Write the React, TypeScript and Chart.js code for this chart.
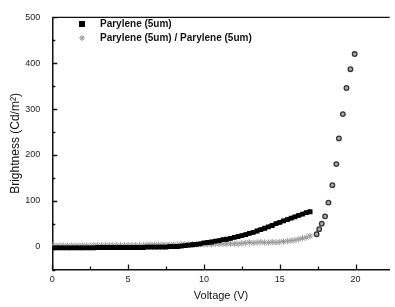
import React, { useEffect, useRef } from 'react';
import { Chart, registerables } from 'chart.js';

Chart.register(...registerables);

const seriesNames = ['Parylene (5um)', 'Parylene (5um) / Parylene (5um)'];

// Voltage sweep (V) for the dense part of both measurements
const denseVoltage = [
  0, 0.25, 0.5, 0.75, 1, 1.25, 1.5, 1.75, 2,
  2.25, 2.5, 2.75, 3, 3.25, 3.5, 3.75, 4, 4.25, 4.5, 4.75, 5,
  5.25, 5.5, 5.75, 6, 6.25, 6.5, 6.75, 7, 7.25, 7.5, 7.75, 8,
  8.25, 8.5, 8.75, 9, 9.25, 9.5, 9.75, 10,
  10.25, 10.5, 10.75, 11, 11.25, 11.5, 11.75, 12,
  12.25, 12.5, 12.75, 13, 13.25, 13.5, 13.75, 14,
  14.25, 14.5, 14.75, 15, 15.25, 15.5, 15.75, 16,
  16.25, 16.5, 16.75, 17,
];

// Parylene (5um) brightness (Cd/m2)
const singleBrightness = [
  -3, -3, -3, -3, -3, -3, -3, -3, -3,
  -3, -3, -3, -2, -2, -2, -2, -2, -2, -2, -2, -2,
  -2, -2, -2, -2, -1, -1, -1, -1, -1, -1, 0, 0,
  0, 1, 2, 3, 4, 5, 6, 8,
  9, 10, 12, 13, 15, 16, 18, 20,
  22, 24, 26, 29, 31, 34, 37, 40,
  43, 46, 50, 53, 56, 59, 62, 65,
  68, 71, 74, 76,
];

// Parylene (5um) / Parylene (5um) brightness, dense part
const doubleDenseBrightness = [
  2, 2, 2, 2, 2, 2, 2, 2, 2,
  2, 2, 3, 3, 3, 3, 3, 3, 3, 3, 3, 3,
  3, 3, 3, 3, 4, 4, 4, 4, 4, 4, 4, 4,
  4, 5, 5, 5, 5, 5, 5, 5,
  5, 5, 6, 6, 6, 6, 6, 6,
  6, 7, 8, 9, 8, 9, 10, 9,
  9, 10, 9, 10, 11, 12, 13, 14,
  16, 18, 20, 23,
];

// Parylene (5um) / Parylene (5um), high-voltage sparse points
const doubleSweepVoltage = [17.43, 17.6, 17.77, 17.99, 18.21, 18.47, 18.73, 18.9, 19.16, 19.4, 19.66, 19.94];
const doubleSweepBrightness = [27, 38, 50, 66, 96, 134, 180, 236, 289, 346, 387, 420];

const xMajorTicks = [0, 5, 10, 15, 20];
const xMinorTicks = [2.5, 7.5, 12.5, 17.5];
const yMajorTicks = [0, 100, 200, 300, 400, 500];
const yMinorTicks = [-50, 50, 150, 250, 350, 450];

const FONT = '"Liberation Sans", Arial, sans-serif';

const decorPlugin = {
  id: 'decor',
  afterDraw(chart: any) {
    const { ctx, chartArea: a, scales } = chart;
    const x = scales.x;
    const y = scales.y;
    ctx.save();
    ctx.strokeStyle = '#111';
    ctx.lineWidth = 1.3;
    ctx.beginPath();
    ctx.moveTo(a.left, a.top);
    ctx.lineTo(a.right, a.top);
    xMajorTicks.forEach((v) => {
      const px = Math.round(x.getPixelForValue(v)) + 0.5;
      ctx.moveTo(px, a.bottom);
      ctx.lineTo(px, a.bottom - 5);
    });
    xMinorTicks.forEach((v) => {
      const px = Math.round(x.getPixelForValue(v)) + 0.5;
      ctx.moveTo(px, a.bottom);
      ctx.lineTo(px, a.bottom - 3);
    });
    yMajorTicks.forEach((v) => {
      const py = Math.round(y.getPixelForValue(v)) + 0.5;
      ctx.moveTo(a.left, py);
      ctx.lineTo(a.left + 5, py);
    });
    yMinorTicks.forEach((v) => {
      const py = Math.round(y.getPixelForValue(v)) + 0.5;
      ctx.moveTo(a.left, py);
      ctx.lineTo(a.left + 3, py);
    });
    ctx.stroke();

    // legend
    const lx = 82;
    const ly1 = 24;
    const ly2 = 38;
    ctx.fillStyle = '#000';
    ctx.fillRect(lx - 3, ly1 - 3, 6, 6);
    ctx.strokeStyle = '#9a9a9a';
    ctx.lineWidth = 1;
    ctx.beginPath();
    const r = 3;
    for (let k = 0; k < 4; k++) {
      const ang = (k * Math.PI) / 4;
      ctx.moveTo(lx - r * Math.cos(ang), ly2 - r * Math.sin(ang));
      ctx.lineTo(lx + r * Math.cos(ang), ly2 + r * Math.sin(ang));
    }
    ctx.stroke();
    ctx.fillStyle = '#111';
    ctx.font = `bold 10px ${FONT}`;
    ctx.textBaseline = 'middle';
    ctx.textAlign = 'left';
    ctx.fillText(seriesNames[0], 100, ly1);
    ctx.fillText(seriesNames[1], 100, ly2);
    ctx.restore();
  },
};

export default function App() {
  const canvasRef = useRef<HTMLCanvasElement | null>(null);

  useEffect(() => {
    if (!canvasRef.current) return;
    const singleData = denseVoltage.map((v, i) => ({ x: v, y: singleBrightness[i] }));
    const doubleData = denseVoltage
      .map((v, i) => ({ x: v, y: doubleDenseBrightness[i] }))
      .concat(doubleSweepVoltage.map((v, i) => ({ x: v, y: doubleSweepBrightness[i] })));
    const isSparse = (ctx: any) => ctx.raw && ctx.raw.x > 17.2;

    const chart = new Chart(canvasRef.current, {
      type: 'line',
      data: {
        datasets: [
          {
            label: seriesNames[0],
            data: singleData,
            showLine: true,
            fill: false,
            borderWidth: 4,
            borderColor: '#000',
            backgroundColor: '#000',
            pointStyle: 'rect',
            pointRadius: 3.4,
            pointBorderWidth: 0,
            pointBackgroundColor: '#000',
          },
          {
            label: seriesNames[1],
            data: doubleData,
            showLine: false,
            fill: false,
            pointStyle: (ctx: any) => (isSparse(ctx) ? 'circle' : 'star'),
            pointRadius: (ctx: any) => (isSparse(ctx) ? 2.3 : 3.2),
            pointBackgroundColor: (ctx: any) => (isSparse(ctx) ? '#aaa' : '#999'),
            pointBorderColor: (ctx: any) => (isSparse(ctx) ? '#333' : '#9a9a9a'),
            pointBorderWidth: (ctx: any) => (isSparse(ctx) ? 1.3 : 1),
          },
        ],
      },
      options: {
        animation: false,
        responsive: true,
        maintainAspectRatio: false,
        layout: { padding: { top: 12, right: 0, left: 0, bottom: 0 } },
        plugins: {
          legend: { display: false },
          tooltip: { enabled: false },
        },
        scales: {
          x: {
            type: 'linear',
            min: 0,
            max: 22.25,
            afterFit: (s: any) => {
              s.height = 37.5;
            },
            grid: { display: false, drawTicks: false },
            border: { display: true, color: '#111', width: 1.5 },
            ticks: {
              stepSize: 5,
              includeBounds: false,
              padding: 5,
              maxRotation: 0,
              color: '#222',
              font: { family: FONT, size: 9 },
            },
            title: {
              display: true,
              text: 'Voltage (V)',
              color: '#111',
              font: { family: FONT, size: 11 },
              padding: { top: 0, bottom: 4 },
            },
          },
          y: {
            type: 'linear',
            min: -50,
            max: 500,
            afterFit: (s: any) => {
              s.width = 52.3;
            },
            grid: { display: false, drawTicks: false },
            border: { display: true, color: '#111', width: 1.5 },
            ticks: {
              stepSize: 50,
              includeBounds: false,
              padding: 12,
              color: '#222',
              font: { family: FONT, size: 9 },
              callback: (v: any) => (Number(v) % 100 === 0 ? String(v) : ''),
            },
            title: {
              display: true,
              text: 'Brightness (Cd/m²)',
              color: '#111',
              font: { family: FONT, size: 12 },
              padding: { top: 8, bottom: 0 },
            },
          },
        },
      },
      plugins: [decorPlugin],
    });
    return () => chart.destroy();
  }, []);

  return (
    <div style={{ position: 'absolute', left: 0, top: 0, width: 395, height: 307, background: '#fff' }}>
      <canvas ref={canvasRef} />
    </div>
  );
}
